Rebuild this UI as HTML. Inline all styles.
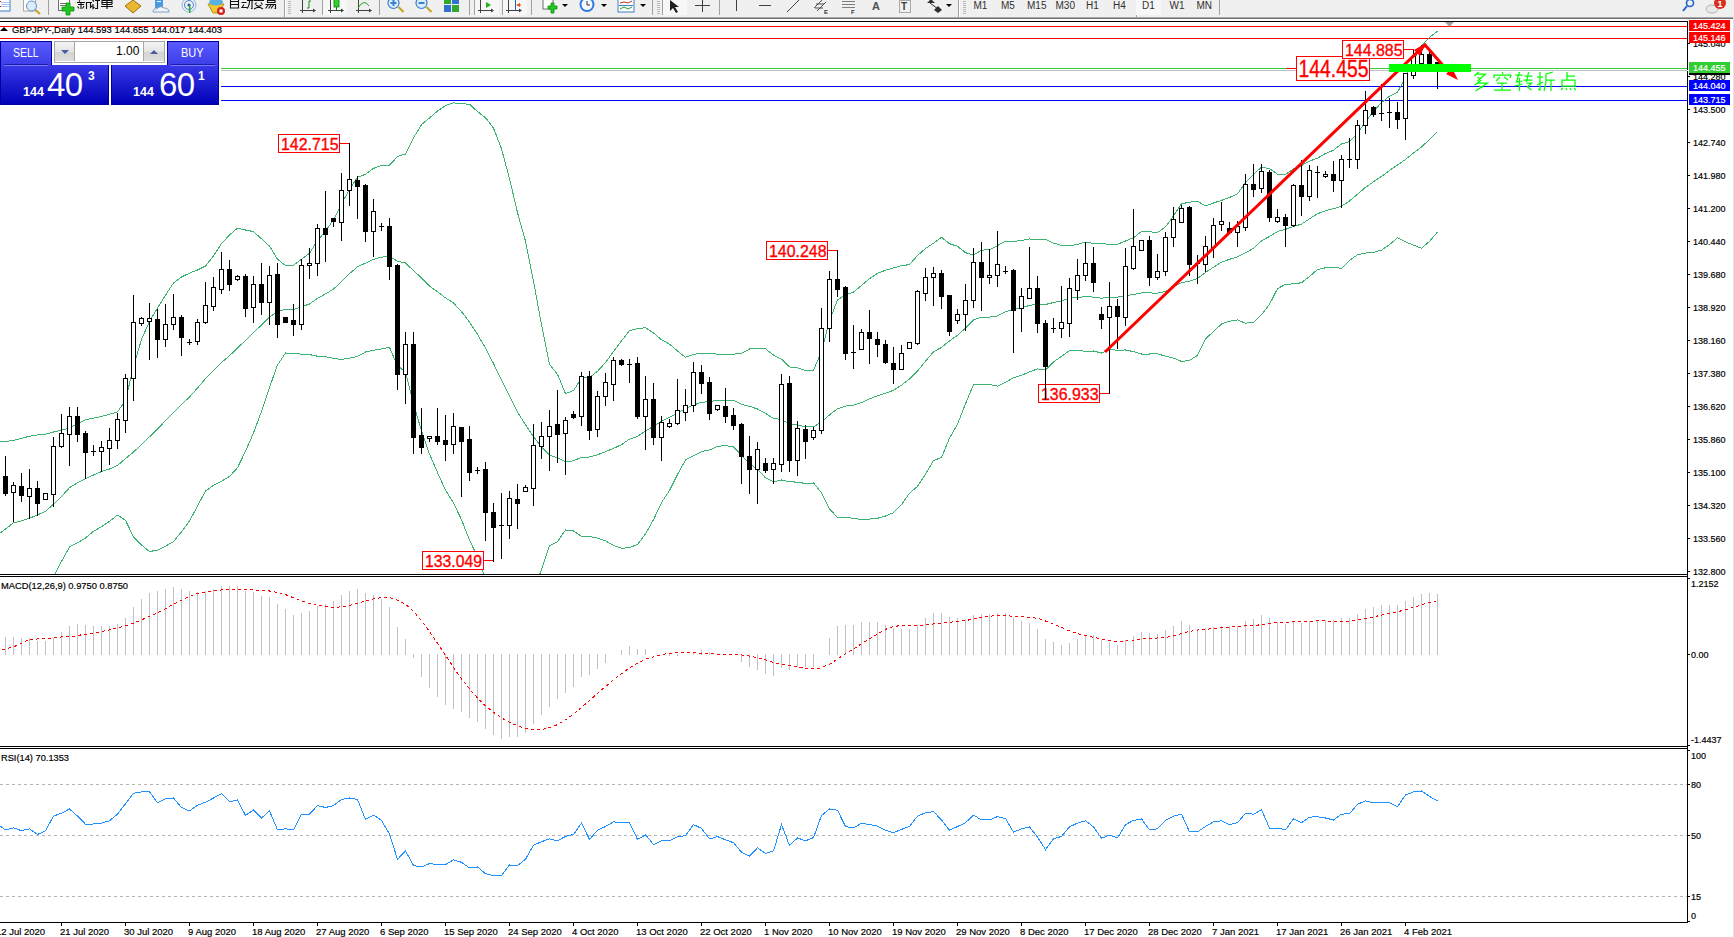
<!DOCTYPE html><html><head><meta charset="utf-8"><style>
html,body{margin:0;padding:0;width:1734px;height:937px;overflow:hidden;background:#fff;position:relative}
.ax{font-family:"Liberation Sans",sans-serif;font-size:9px;fill:#000;stroke:#000;stroke-width:0.18}
.lb{font-family:"Liberation Sans",sans-serif}
#tb{position:absolute;left:0;top:0;width:1734px;height:17px;background:#f0f0f0}
.tab,.bot{position:absolute;border:0 solid #0000a0;box-sizing:content-box}
.tab{background:linear-gradient(#5a5aff,#3c3ce8)}
.bot{background:linear-gradient(#3a3ae8,#0000b8)}
.pt{position:absolute;font-family:'Liberation Sans',sans-serif;color:#fff;white-space:nowrap;line-height:1}
.btn{position:absolute;background:linear-gradient(#f4f4f4,#e4e4e4 50%,#d4d4d4 51%,#dcdcdc)}
</style></head><body>
<div id="tb"></div>
<div style="position:absolute;left:0;top:17px;width:1733px;height:1px;background:#a8a8a8"></div>
<div style="position:absolute;left:0;top:18px;width:1733px;height:1px;background:#707070"></div>
<div style="position:absolute;left:1733px;top:17px;width:1px;height:920px;background:#e3e3e3"></div>
<svg width="1734" height="937" style="position:absolute;left:0;top:0"><defs><clipPath id="cm"><rect x="0" y="22" width="1687" height="552"/></clipPath><clipPath id="cmacd"><rect x="0" y="577" width="1687" height="169"/></clipPath><clipPath id="crsi"><rect x="0" y="749" width="1687" height="173"/></clipPath></defs><g clip-path="url(#cm)" shape-rendering="crispEdges"><rect x="0" y="26" width="1687" height="1" fill="#ff0000"/><rect x="0" y="38" width="1687" height="1" fill="#ff0000"/><rect x="0" y="68" width="1687" height="1" fill="#32cd32"/><rect x="0" y="70" width="1687" height="1" fill="#c0c0c0"/><rect x="0" y="86" width="1687" height="1" fill="#0000ff"/><rect x="0" y="100" width="1687" height="1" fill="#0000ff"/></g><g shape-rendering="crispEdges"><polyline clip-path="url(#cm)" fill="none" stroke="#3cb371" stroke-width="1" points="-3.5,442.3 5.5,441.4 13.5,440.5 21.5,438.4 29.5,436.2 37.5,435.0 45.5,434.1 53.5,432.0 61.5,430.2 69.5,427.9 77.5,423.5 85.5,419.7 93.5,418.2 101.5,416.5 109.5,414.2 117.5,411.9 125.5,400.5 133.5,366.5 141.5,339.5 149.5,321.5 157.5,308.0 165.5,295.2 173.5,282.9 181.5,277.0 189.5,273.1 197.5,270.0 205.5,266.0 213.5,256.0 221.5,243.6 229.5,235.0 237.5,228.1 245.5,230.0 253.5,231.6 261.5,238.8 269.5,246.1 277.5,259.2 285.5,265.5 293.5,265.4 301.5,259.2 309.5,253.3 317.5,240.6 325.5,231.1 333.5,219.8 341.5,204.0 349.5,189.2 357.5,177.3 365.5,174.2 373.5,168.4 381.5,165.3 389.5,165.2 397.5,156.6 405.5,154.0 413.5,137.8 421.5,124.7 429.5,117.9 437.5,111.1 445.5,105.6 453.5,102.9 461.5,103.7 469.5,104.2 477.5,111.6 485.5,117.7 493.5,128.1 501.5,148.8 509.5,178.6 517.5,212.6 525.5,241.2 533.5,281.0 541.5,324.8 549.5,364.3 557.5,374.3 565.5,393.6 573.5,390.6 581.5,378.2 589.5,377.5 597.5,371.3 605.5,362.6 613.5,351.4 621.5,340.9 629.5,330.7 637.5,328.6 645.5,327.7 653.5,333.0 661.5,339.7 669.5,344.1 677.5,351.0 685.5,357.3 693.5,354.4 701.5,353.1 709.5,353.4 717.5,354.2 725.5,354.4 733.5,354.1 741.5,353.4 749.5,349.0 757.5,348.8 765.5,348.8 773.5,355.1 781.5,359.1 789.5,367.0 797.5,367.7 805.5,370.5 813.5,370.4 821.5,351.3 829.5,320.9 837.5,299.9 845.5,294.7 853.5,292.1 861.5,285.4 869.5,278.7 877.5,273.3 885.5,270.2 893.5,267.9 901.5,265.7 909.5,264.6 917.5,255.5 925.5,248.5 933.5,243.2 941.5,237.3 949.5,243.7 957.5,246.3 965.5,252.7 973.5,255.1 981.5,250.2 989.5,249.6 997.5,245.6 1005.5,241.1 1013.5,241.5 1021.5,240.4 1029.5,239.0 1037.5,239.8 1045.5,239.2 1053.5,243.1 1061.5,245.4 1069.5,246.0 1077.5,244.3 1085.5,242.2 1093.5,243.3 1101.5,243.6 1109.5,244.3 1117.5,244.2 1125.5,241.0 1133.5,237.7 1141.5,231.6 1149.5,231.7 1157.5,232.6 1165.5,226.9 1173.5,215.9 1181.5,203.8 1189.5,202.2 1197.5,201.3 1205.5,205.9 1213.5,203.0 1221.5,200.4 1229.5,197.5 1237.5,193.8 1245.5,182.6 1253.5,174.2 1261.5,167.2 1269.5,168.6 1277.5,174.2 1285.5,174.5 1293.5,168.9 1301.5,165.6 1309.5,161.1 1317.5,158.2 1325.5,153.5 1333.5,150.2 1341.5,144.0 1349.5,141.7 1357.5,133.5 1365.5,121.6 1373.5,111.3 1381.5,102.5 1389.5,96.3 1397.5,92.3 1405.5,77.3 1413.5,60.7 1421.5,45.9 1429.5,37.3 1437.5,31.3"/><polyline clip-path="url(#cm)" fill="none" stroke="#3cb371" stroke-width="1" points="-3.5,535.5 5.5,529.1 13.5,522.7 21.5,520.9 29.5,518.3 37.5,514.9 45.5,511.3 53.5,504.2 61.5,496.6 69.5,487.7 77.5,482.8 85.5,478.8 93.5,475.0 101.5,471.6 109.5,469.0 117.5,465.5 125.5,458.5 133.5,452.1 141.5,444.5 149.5,436.8 157.5,429.1 165.5,420.7 173.5,412.3 181.5,404.4 189.5,397.0 197.5,388.0 205.5,378.6 213.5,370.6 221.5,362.4 229.5,355.8 237.5,347.9 245.5,340.6 253.5,332.3 261.5,325.1 269.5,316.8 277.5,312.0 285.5,309.2 293.5,309.4 301.5,306.7 309.5,304.0 317.5,298.4 325.5,293.9 333.5,289.1 341.5,281.7 349.5,273.6 357.5,266.8 365.5,263.1 373.5,259.3 381.5,257.2 389.5,256.3 397.5,261.2 405.5,263.0 413.5,270.6 421.5,277.9 429.5,286.0 437.5,291.8 445.5,297.9 453.5,303.0 461.5,311.7 469.5,322.1 477.5,334.3 485.5,348.2 493.5,363.5 501.5,380.2 509.5,396.2 517.5,412.0 525.5,424.9 533.5,436.6 541.5,447.1 549.5,455.1 557.5,458.0 565.5,461.8 573.5,460.8 581.5,457.3 589.5,457.0 597.5,454.8 605.5,451.7 613.5,448.4 621.5,444.6 629.5,439.2 637.5,436.5 645.5,430.8 653.5,426.4 661.5,421.2 669.5,417.4 677.5,412.8 685.5,408.7 693.5,405.0 701.5,402.3 709.5,401.7 717.5,400.3 725.5,400.0 733.5,400.4 741.5,404.4 749.5,406.3 757.5,409.0 765.5,413.4 773.5,418.5 781.5,419.5 789.5,424.3 797.5,424.9 805.5,427.0 813.5,426.7 821.5,422.0 829.5,414.9 837.5,408.8 845.5,406.1 853.5,405.1 861.5,402.6 869.5,398.9 877.5,395.8 885.5,393.1 893.5,390.3 901.5,385.2 909.5,378.9 917.5,371.0 925.5,361.3 933.5,351.8 941.5,347.4 949.5,340.9 957.5,335.2 965.5,328.2 973.5,319.8 981.5,317.3 989.5,317.1 997.5,315.9 1005.5,311.8 1013.5,309.6 1021.5,307.9 1029.5,305.4 1037.5,304.3 1045.5,304.5 1053.5,302.5 1061.5,300.9 1069.5,298.2 1077.5,297.4 1085.5,296.7 1093.5,297.1 1101.5,298.3 1109.5,297.1 1117.5,297.2 1125.5,295.5 1133.5,294.6 1141.5,292.8 1149.5,292.9 1157.5,293.2 1165.5,291.5 1173.5,287.0 1181.5,282.6 1189.5,281.3 1197.5,278.4 1205.5,272.4 1213.5,267.2 1221.5,262.2 1229.5,259.3 1237.5,256.9 1245.5,252.9 1253.5,248.3 1261.5,240.9 1269.5,236.4 1277.5,231.5 1285.5,229.4 1293.5,226.4 1301.5,224.2 1309.5,218.8 1317.5,213.8 1325.5,210.7 1333.5,208.7 1341.5,206.2 1349.5,201.0 1357.5,194.2 1365.5,187.3 1373.5,181.8 1381.5,176.4 1389.5,170.4 1397.5,165.1 1405.5,159.5 1413.5,152.9 1421.5,147.1 1429.5,139.4 1437.5,131.7"/><polyline clip-path="url(#cm)" fill="none" stroke="#3cb371" stroke-width="1" points="-3.5,681.5 5.5,666.5 13.5,651.5 21.5,636.5 29.5,621.5 37.5,606.5 45.5,591.5 53.5,576.5 61.5,561.4 69.5,547.0 77.5,542.8 85.5,538.0 93.5,531.3 101.5,526.7 109.5,521.3 117.5,515.1 125.5,520.3 133.5,536.9 141.5,545.0 149.5,551.5 157.5,550.2 165.5,546.1 173.5,541.6 181.5,531.8 189.5,521.0 197.5,506.0 205.5,491.1 213.5,485.3 221.5,481.2 229.5,476.5 237.5,467.7 245.5,451.3 253.5,433.0 261.5,411.3 269.5,387.5 277.5,364.9 285.5,353.0 293.5,353.3 301.5,354.2 309.5,354.6 317.5,356.2 325.5,356.7 333.5,358.3 341.5,359.5 349.5,358.1 357.5,356.4 365.5,352.0 373.5,350.2 381.5,349.0 389.5,347.4 397.5,365.8 405.5,372.0 413.5,403.5 421.5,431.1 429.5,454.1 437.5,472.5 445.5,490.1 453.5,503.0 461.5,519.7 469.5,540.1 477.5,556.9 485.5,578.7 493.5,598.8 501.5,611.7 509.5,613.7 517.5,611.5 525.5,608.5 533.5,592.1 541.5,569.3 549.5,545.8 557.5,541.7 565.5,530.0 573.5,531.0 581.5,536.4 589.5,536.4 597.5,538.2 605.5,540.8 613.5,545.4 621.5,548.3 629.5,547.7 637.5,544.4 645.5,534.0 653.5,519.7 661.5,502.6 669.5,490.6 677.5,474.5 685.5,460.0 693.5,455.6 701.5,451.6 709.5,450.0 717.5,446.3 725.5,445.7 733.5,446.8 741.5,455.3 749.5,463.7 757.5,469.2 765.5,477.9 773.5,481.9 781.5,480.0 789.5,481.7 797.5,482.2 805.5,483.5 813.5,483.0 821.5,492.7 829.5,508.8 837.5,517.6 845.5,517.6 853.5,518.2 861.5,519.7 869.5,519.1 877.5,518.3 885.5,516.0 893.5,512.7 901.5,504.7 909.5,493.2 917.5,486.4 925.5,474.1 933.5,460.5 941.5,457.5 949.5,438.2 957.5,424.2 965.5,403.7 973.5,384.5 981.5,384.3 989.5,384.6 997.5,386.1 1005.5,382.4 1013.5,377.7 1021.5,375.4 1029.5,371.8 1037.5,368.9 1045.5,369.9 1053.5,361.9 1061.5,356.4 1069.5,350.4 1077.5,350.5 1085.5,351.2 1093.5,351.0 1101.5,353.0 1109.5,349.8 1117.5,350.1 1125.5,350.0 1133.5,351.6 1141.5,354.0 1149.5,354.0 1157.5,353.8 1165.5,356.2 1173.5,358.1 1181.5,361.4 1189.5,360.4 1197.5,355.4 1205.5,338.8 1213.5,331.5 1221.5,324.0 1229.5,321.2 1237.5,319.9 1245.5,323.2 1253.5,322.4 1261.5,314.7 1269.5,304.3 1277.5,288.7 1285.5,284.3 1293.5,283.9 1301.5,282.7 1309.5,276.5 1317.5,269.5 1325.5,267.8 1333.5,267.1 1341.5,268.5 1349.5,260.4 1357.5,254.8 1365.5,253.1 1373.5,252.3 1381.5,250.2 1389.5,244.6 1397.5,237.8 1405.5,241.8 1413.5,245.2 1421.5,248.2 1429.5,241.4 1437.5,232.0"/></g><rect x="278.5" y="134.5" width="61" height="18" fill="#fff" stroke="#ff0000" stroke-width="1" shape-rendering="crispEdges"/><text x="281.0" y="149.6" style="font-size:16.5px;fill:#ff0000;stroke:#ff0000;stroke-width:0.35" textLength="57.5" lengthAdjust="spacingAndGlyphs" class="lb">142.715</text><polyline fill="none" stroke="#ff0000" stroke-width="1" shape-rendering="crispEdges" points="339,143.5 349.5,143.5"/><rect x="766.5" y="241.5" width="61" height="18" fill="#fff" stroke="#ff0000" stroke-width="1" shape-rendering="crispEdges"/><text x="769.0" y="256.6" style="font-size:16.5px;fill:#ff0000;stroke:#ff0000;stroke-width:0.35" textLength="57.5" lengthAdjust="spacingAndGlyphs" class="lb">140.248</text><polyline fill="none" stroke="#ff0000" stroke-width="1" shape-rendering="crispEdges" points="827,250.5 837.5,250.5"/><rect x="422.5" y="551.5" width="61" height="18" fill="#fff" stroke="#ff0000" stroke-width="1" shape-rendering="crispEdges"/><text x="425.0" y="566.6" style="font-size:16.5px;fill:#ff0000;stroke:#ff0000;stroke-width:0.35" textLength="57.0" lengthAdjust="spacingAndGlyphs" class="lb">133.049</text><polyline fill="none" stroke="#ff0000" stroke-width="1" shape-rendering="crispEdges" points="483,560.5 493.5,560.5"/><rect x="1038.5" y="384.5" width="61" height="18" fill="#fff" stroke="#ff0000" stroke-width="1" shape-rendering="crispEdges"/><text x="1041.0" y="399.6" style="font-size:16.5px;fill:#ff0000;stroke:#ff0000;stroke-width:0.35" textLength="57.5" lengthAdjust="spacingAndGlyphs" class="lb">136.933</text><polyline fill="none" stroke="#ff0000" stroke-width="1" shape-rendering="crispEdges" points="1099,393.5 1109.5,393.5"/><rect x="1296.5" y="56.5" width="73" height="24" fill="#fff" stroke="#ff0000" stroke-width="1" shape-rendering="crispEdges"/><text x="1298.5" y="76.9" style="font-size:23.8px;fill:#ff0000;stroke:#ff0000;stroke-width:0.35" textLength="70.0" lengthAdjust="spacingAndGlyphs" class="lb">144.455</text><polyline fill="none" stroke="#ff0000" stroke-width="1" shape-rendering="crispEdges" points="1286,68.5 1296,68.5"/><rect x="1342.5" y="40.5" width="61" height="18" fill="#fff" stroke="#ff0000" stroke-width="1" shape-rendering="crispEdges"/><text x="1345.0" y="56.0" style="font-size:17.0px;fill:#ff0000;stroke:#ff0000;stroke-width:0.35" textLength="57.5" lengthAdjust="spacingAndGlyphs" class="lb">144.885</text><polyline fill="none" stroke="#ff0000" stroke-width="1" shape-rendering="crispEdges" points="1403,49.5 1413.5,49.5"/><g clip-path="url(#cm)" shape-rendering="crispEdges"><rect x="5" y="456" width="1" height="40" fill="#000"/><rect x="3" y="476" width="5" height="18" fill="#000"/><rect x="13" y="482" width="1" height="40" fill="#000"/><rect x="11" y="485" width="5" height="8" fill="#000"/><rect x="12" y="486" width="3" height="6" fill="#fff"/><rect x="21" y="473" width="1" height="29" fill="#000"/><rect x="19" y="486" width="5" height="10" fill="#000"/><rect x="29" y="469" width="1" height="50" fill="#000"/><rect x="27" y="488" width="5" height="9" fill="#000"/><rect x="28" y="489" width="3" height="7" fill="#fff"/><rect x="37" y="481" width="1" height="35" fill="#000"/><rect x="35" y="488" width="5" height="16" fill="#000"/><rect x="45" y="493" width="1" height="7" fill="#000"/><rect x="43" y="493" width="5" height="7" fill="#000"/><rect x="44" y="494" width="3" height="5" fill="#fff"/><rect x="53" y="437" width="1" height="70" fill="#000"/><rect x="51" y="446" width="5" height="49" fill="#000"/><rect x="52" y="447" width="3" height="47" fill="#fff"/><rect x="61" y="414" width="1" height="34" fill="#000"/><rect x="59" y="433" width="5" height="14" fill="#000"/><rect x="60" y="434" width="3" height="12" fill="#fff"/><rect x="69" y="407" width="1" height="59" fill="#000"/><rect x="67" y="416" width="5" height="19" fill="#000"/><rect x="68" y="417" width="3" height="17" fill="#fff"/><rect x="77" y="407" width="1" height="35" fill="#000"/><rect x="75" y="416" width="5" height="19" fill="#000"/><rect x="85" y="431" width="1" height="48" fill="#000"/><rect x="83" y="433" width="5" height="20" fill="#000"/><rect x="93" y="445" width="1" height="11" fill="#000"/><rect x="91" y="451" width="5" height="1" fill="#000"/><rect x="101" y="441" width="1" height="31" fill="#000"/><rect x="99" y="447" width="5" height="5" fill="#000"/><rect x="100" y="448" width="3" height="3" fill="#fff"/><rect x="109" y="428" width="1" height="37" fill="#000"/><rect x="107" y="440" width="5" height="9" fill="#000"/><rect x="108" y="441" width="3" height="7" fill="#fff"/><rect x="117" y="413" width="1" height="36" fill="#000"/><rect x="115" y="419" width="5" height="22" fill="#000"/><rect x="116" y="420" width="3" height="20" fill="#fff"/><rect x="125" y="374" width="1" height="59" fill="#000"/><rect x="123" y="378" width="5" height="43" fill="#000"/><rect x="124" y="379" width="3" height="41" fill="#fff"/><rect x="133" y="295" width="1" height="106" fill="#000"/><rect x="131" y="322" width="5" height="57" fill="#000"/><rect x="132" y="323" width="3" height="55" fill="#fff"/><rect x="141" y="317" width="1" height="9" fill="#000"/><rect x="139" y="318" width="5" height="6" fill="#000"/><rect x="140" y="319" width="3" height="4" fill="#fff"/><rect x="149" y="303" width="1" height="57" fill="#000"/><rect x="147" y="318" width="5" height="4" fill="#000"/><rect x="148" y="319" width="3" height="2" fill="#fff"/><rect x="157" y="309" width="1" height="49" fill="#000"/><rect x="155" y="319" width="5" height="21" fill="#000"/><rect x="165" y="304" width="1" height="43" fill="#000"/><rect x="163" y="324" width="5" height="16" fill="#000"/><rect x="164" y="325" width="3" height="14" fill="#fff"/><rect x="173" y="294" width="1" height="36" fill="#000"/><rect x="171" y="317" width="5" height="8" fill="#000"/><rect x="172" y="318" width="3" height="6" fill="#fff"/><rect x="181" y="315" width="1" height="41" fill="#000"/><rect x="179" y="317" width="5" height="21" fill="#000"/><rect x="189" y="339" width="1" height="6" fill="#000"/><rect x="187" y="342" width="5" height="1" fill="#000"/><rect x="197" y="319" width="1" height="26" fill="#000"/><rect x="195" y="322" width="5" height="20" fill="#000"/><rect x="196" y="323" width="3" height="18" fill="#fff"/><rect x="205" y="282" width="1" height="42" fill="#000"/><rect x="203" y="305" width="5" height="18" fill="#000"/><rect x="204" y="306" width="3" height="16" fill="#fff"/><rect x="213" y="277" width="1" height="34" fill="#000"/><rect x="211" y="287" width="5" height="20" fill="#000"/><rect x="212" y="288" width="3" height="18" fill="#fff"/><rect x="221" y="252" width="1" height="42" fill="#000"/><rect x="219" y="269" width="5" height="21" fill="#000"/><rect x="220" y="270" width="3" height="19" fill="#fff"/><rect x="229" y="260" width="1" height="31" fill="#000"/><rect x="227" y="269" width="5" height="16" fill="#000"/><rect x="237" y="275" width="1" height="6" fill="#000"/><rect x="235" y="276" width="5" height="4" fill="#000"/><rect x="236" y="277" width="3" height="2" fill="#fff"/><rect x="245" y="274" width="1" height="43" fill="#000"/><rect x="243" y="276" width="5" height="33" fill="#000"/><rect x="253" y="276" width="1" height="47" fill="#000"/><rect x="251" y="284" width="5" height="24" fill="#000"/><rect x="252" y="285" width="3" height="22" fill="#fff"/><rect x="261" y="263" width="1" height="52" fill="#000"/><rect x="259" y="284" width="5" height="19" fill="#000"/><rect x="269" y="266" width="1" height="59" fill="#000"/><rect x="267" y="275" width="5" height="28" fill="#000"/><rect x="268" y="276" width="3" height="26" fill="#fff"/><rect x="277" y="263" width="1" height="75" fill="#000"/><rect x="275" y="274" width="5" height="51" fill="#000"/><rect x="285" y="317" width="1" height="6" fill="#000"/><rect x="283" y="317" width="5" height="6" fill="#000"/><rect x="293" y="304" width="1" height="32" fill="#000"/><rect x="291" y="320" width="5" height="5" fill="#000"/><rect x="301" y="259" width="1" height="71" fill="#000"/><rect x="299" y="265" width="5" height="60" fill="#000"/><rect x="300" y="266" width="3" height="58" fill="#fff"/><rect x="309" y="248" width="1" height="31" fill="#000"/><rect x="307" y="263" width="5" height="3" fill="#000"/><rect x="308" y="264" width="3" height="1" fill="#fff"/><rect x="317" y="224" width="1" height="52" fill="#000"/><rect x="315" y="228" width="5" height="36" fill="#000"/><rect x="316" y="229" width="3" height="34" fill="#fff"/><rect x="325" y="191" width="1" height="71" fill="#000"/><rect x="323" y="228" width="5" height="7" fill="#000"/><rect x="333" y="218" width="1" height="9" fill="#000"/><rect x="331" y="218" width="5" height="4" fill="#000"/><rect x="341" y="173" width="1" height="68" fill="#000"/><rect x="339" y="190" width="5" height="33" fill="#000"/><rect x="340" y="191" width="3" height="31" fill="#fff"/><rect x="349" y="143" width="1" height="63" fill="#000"/><rect x="347" y="179" width="5" height="12" fill="#000"/><rect x="348" y="180" width="3" height="10" fill="#fff"/><rect x="357" y="176" width="1" height="43" fill="#000"/><rect x="355" y="180" width="5" height="7" fill="#000"/><rect x="365" y="184" width="1" height="58" fill="#000"/><rect x="363" y="185" width="5" height="47" fill="#000"/><rect x="373" y="199" width="1" height="58" fill="#000"/><rect x="371" y="211" width="5" height="21" fill="#000"/><rect x="372" y="212" width="3" height="19" fill="#fff"/><rect x="381" y="223" width="1" height="8" fill="#000"/><rect x="379" y="226" width="5" height="1" fill="#000"/><rect x="389" y="218" width="1" height="62" fill="#000"/><rect x="387" y="226" width="5" height="41" fill="#000"/><rect x="397" y="264" width="1" height="126" fill="#000"/><rect x="395" y="265" width="5" height="110" fill="#000"/><rect x="405" y="332" width="1" height="72" fill="#000"/><rect x="403" y="344" width="5" height="31" fill="#000"/><rect x="404" y="345" width="3" height="29" fill="#fff"/><rect x="413" y="332" width="1" height="122" fill="#000"/><rect x="411" y="344" width="5" height="94" fill="#000"/><rect x="421" y="408" width="1" height="46" fill="#000"/><rect x="419" y="435" width="5" height="13" fill="#000"/><rect x="429" y="436" width="1" height="6" fill="#000"/><rect x="427" y="436" width="5" height="3" fill="#000"/><rect x="428" y="437" width="3" height="1" fill="#fff"/><rect x="437" y="408" width="1" height="37" fill="#000"/><rect x="435" y="436" width="5" height="6" fill="#000"/><rect x="445" y="415" width="1" height="46" fill="#000"/><rect x="443" y="440" width="5" height="5" fill="#000"/><rect x="453" y="413" width="1" height="41" fill="#000"/><rect x="451" y="426" width="5" height="19" fill="#000"/><rect x="452" y="427" width="3" height="17" fill="#fff"/><rect x="461" y="427" width="1" height="70" fill="#000"/><rect x="459" y="427" width="5" height="15" fill="#000"/><rect x="469" y="426" width="1" height="55" fill="#000"/><rect x="467" y="439" width="5" height="34" fill="#000"/><rect x="477" y="467" width="1" height="7" fill="#000"/><rect x="475" y="470" width="5" height="1" fill="#000"/><rect x="485" y="462" width="1" height="79" fill="#000"/><rect x="483" y="469" width="5" height="44" fill="#000"/><rect x="493" y="503" width="1" height="59" fill="#000"/><rect x="491" y="512" width="5" height="16" fill="#000"/><rect x="501" y="493" width="1" height="66" fill="#000"/><rect x="499" y="525" width="5" height="1" fill="#000"/><rect x="509" y="491" width="1" height="48" fill="#000"/><rect x="507" y="498" width="5" height="28" fill="#000"/><rect x="508" y="499" width="3" height="26" fill="#fff"/><rect x="517" y="484" width="1" height="45" fill="#000"/><rect x="515" y="499" width="5" height="5" fill="#000"/><rect x="525" y="485" width="1" height="7" fill="#000"/><rect x="523" y="487" width="5" height="5" fill="#000"/><rect x="524" y="488" width="3" height="3" fill="#fff"/><rect x="533" y="424" width="1" height="82" fill="#000"/><rect x="531" y="445" width="5" height="44" fill="#000"/><rect x="532" y="446" width="3" height="42" fill="#fff"/><rect x="541" y="422" width="1" height="37" fill="#000"/><rect x="539" y="436" width="5" height="11" fill="#000"/><rect x="540" y="437" width="3" height="9" fill="#fff"/><rect x="549" y="410" width="1" height="61" fill="#000"/><rect x="547" y="426" width="5" height="11" fill="#000"/><rect x="548" y="427" width="3" height="9" fill="#fff"/><rect x="557" y="390" width="1" height="73" fill="#000"/><rect x="555" y="424" width="5" height="11" fill="#000"/><rect x="565" y="417" width="1" height="58" fill="#000"/><rect x="563" y="420" width="5" height="14" fill="#000"/><rect x="564" y="421" width="3" height="12" fill="#fff"/><rect x="573" y="411" width="1" height="8" fill="#000"/><rect x="571" y="414" width="5" height="4" fill="#000"/><rect x="581" y="372" width="1" height="54" fill="#000"/><rect x="579" y="376" width="5" height="41" fill="#000"/><rect x="580" y="377" width="3" height="39" fill="#fff"/><rect x="589" y="371" width="1" height="69" fill="#000"/><rect x="587" y="376" width="5" height="55" fill="#000"/><rect x="597" y="391" width="1" height="46" fill="#000"/><rect x="595" y="396" width="5" height="34" fill="#000"/><rect x="596" y="397" width="3" height="32" fill="#fff"/><rect x="605" y="373" width="1" height="33" fill="#000"/><rect x="603" y="382" width="5" height="15" fill="#000"/><rect x="604" y="383" width="3" height="13" fill="#fff"/><rect x="613" y="357" width="1" height="44" fill="#000"/><rect x="611" y="360" width="5" height="25" fill="#000"/><rect x="612" y="361" width="3" height="23" fill="#fff"/><rect x="621" y="359" width="1" height="7" fill="#000"/><rect x="619" y="360" width="5" height="5" fill="#000"/><rect x="629" y="359" width="1" height="24" fill="#000"/><rect x="627" y="364" width="5" height="1" fill="#000"/><rect x="637" y="357" width="1" height="62" fill="#000"/><rect x="635" y="363" width="5" height="54" fill="#000"/><rect x="645" y="376" width="1" height="74" fill="#000"/><rect x="643" y="399" width="5" height="18" fill="#000"/><rect x="644" y="400" width="3" height="16" fill="#fff"/><rect x="653" y="383" width="1" height="62" fill="#000"/><rect x="651" y="399" width="5" height="39" fill="#000"/><rect x="661" y="416" width="1" height="45" fill="#000"/><rect x="659" y="422" width="5" height="16" fill="#000"/><rect x="660" y="423" width="3" height="14" fill="#fff"/><rect x="669" y="419" width="1" height="9" fill="#000"/><rect x="667" y="423" width="5" height="4" fill="#000"/><rect x="668" y="424" width="3" height="2" fill="#fff"/><rect x="677" y="379" width="1" height="46" fill="#000"/><rect x="675" y="410" width="5" height="14" fill="#000"/><rect x="676" y="411" width="3" height="12" fill="#fff"/><rect x="685" y="389" width="1" height="32" fill="#000"/><rect x="683" y="405" width="5" height="8" fill="#000"/><rect x="684" y="406" width="3" height="6" fill="#fff"/><rect x="693" y="362" width="1" height="50" fill="#000"/><rect x="691" y="372" width="5" height="34" fill="#000"/><rect x="692" y="373" width="3" height="32" fill="#fff"/><rect x="701" y="365" width="1" height="29" fill="#000"/><rect x="699" y="372" width="5" height="12" fill="#000"/><rect x="709" y="377" width="1" height="43" fill="#000"/><rect x="707" y="382" width="5" height="32" fill="#000"/><rect x="717" y="405" width="1" height="6" fill="#000"/><rect x="715" y="405" width="5" height="5" fill="#000"/><rect x="716" y="406" width="3" height="3" fill="#fff"/><rect x="725" y="388" width="1" height="35" fill="#000"/><rect x="723" y="406" width="5" height="11" fill="#000"/><rect x="733" y="408" width="1" height="22" fill="#000"/><rect x="731" y="415" width="5" height="11" fill="#000"/><rect x="741" y="423" width="1" height="61" fill="#000"/><rect x="739" y="424" width="5" height="33" fill="#000"/><rect x="749" y="436" width="1" height="58" fill="#000"/><rect x="747" y="456" width="5" height="14" fill="#000"/><rect x="757" y="442" width="1" height="62" fill="#000"/><rect x="755" y="449" width="5" height="21" fill="#000"/><rect x="756" y="450" width="3" height="19" fill="#fff"/><rect x="765" y="458" width="1" height="15" fill="#000"/><rect x="763" y="463" width="5" height="8" fill="#000"/><rect x="773" y="458" width="1" height="26" fill="#000"/><rect x="771" y="463" width="5" height="7" fill="#000"/><rect x="772" y="464" width="3" height="5" fill="#fff"/><rect x="781" y="374" width="1" height="98" fill="#000"/><rect x="779" y="384" width="5" height="81" fill="#000"/><rect x="780" y="385" width="3" height="79" fill="#fff"/><rect x="789" y="376" width="1" height="96" fill="#000"/><rect x="787" y="383" width="5" height="78" fill="#000"/><rect x="797" y="421" width="1" height="55" fill="#000"/><rect x="795" y="428" width="5" height="33" fill="#000"/><rect x="796" y="429" width="3" height="31" fill="#fff"/><rect x="805" y="425" width="1" height="34" fill="#000"/><rect x="803" y="429" width="5" height="13" fill="#000"/><rect x="813" y="427" width="1" height="13" fill="#000"/><rect x="811" y="430" width="5" height="8" fill="#000"/><rect x="812" y="431" width="3" height="6" fill="#fff"/><rect x="821" y="308" width="1" height="126" fill="#000"/><rect x="819" y="328" width="5" height="103" fill="#000"/><rect x="820" y="329" width="3" height="101" fill="#fff"/><rect x="829" y="271" width="1" height="71" fill="#000"/><rect x="827" y="279" width="5" height="50" fill="#000"/><rect x="828" y="280" width="3" height="48" fill="#fff"/><rect x="837" y="250" width="1" height="47" fill="#000"/><rect x="835" y="279" width="5" height="11" fill="#000"/><rect x="845" y="286" width="1" height="74" fill="#000"/><rect x="843" y="287" width="5" height="67" fill="#000"/><rect x="853" y="325" width="1" height="44" fill="#000"/><rect x="851" y="352" width="5" height="1" fill="#000"/><rect x="861" y="329" width="1" height="21" fill="#000"/><rect x="859" y="332" width="5" height="18" fill="#000"/><rect x="860" y="333" width="3" height="16" fill="#fff"/><rect x="869" y="310" width="1" height="54" fill="#000"/><rect x="867" y="332" width="5" height="7" fill="#000"/><rect x="877" y="332" width="1" height="25" fill="#000"/><rect x="875" y="339" width="5" height="6" fill="#000"/><rect x="885" y="340" width="1" height="24" fill="#000"/><rect x="883" y="344" width="5" height="19" fill="#000"/><rect x="893" y="347" width="1" height="37" fill="#000"/><rect x="891" y="363" width="5" height="7" fill="#000"/><rect x="901" y="345" width="1" height="25" fill="#000"/><rect x="899" y="353" width="5" height="17" fill="#000"/><rect x="900" y="354" width="3" height="15" fill="#fff"/><rect x="909" y="342" width="1" height="7" fill="#000"/><rect x="907" y="342" width="5" height="7" fill="#000"/><rect x="908" y="343" width="3" height="5" fill="#fff"/><rect x="917" y="290" width="1" height="55" fill="#000"/><rect x="915" y="291" width="5" height="53" fill="#000"/><rect x="916" y="292" width="3" height="51" fill="#fff"/><rect x="925" y="268" width="1" height="33" fill="#000"/><rect x="923" y="277" width="5" height="17" fill="#000"/><rect x="924" y="278" width="3" height="15" fill="#fff"/><rect x="933" y="267" width="1" height="39" fill="#000"/><rect x="931" y="273" width="5" height="5" fill="#000"/><rect x="932" y="274" width="3" height="3" fill="#fff"/><rect x="941" y="270" width="1" height="39" fill="#000"/><rect x="939" y="273" width="5" height="24" fill="#000"/><rect x="949" y="295" width="1" height="41" fill="#000"/><rect x="947" y="295" width="5" height="37" fill="#000"/><rect x="957" y="309" width="1" height="15" fill="#000"/><rect x="955" y="314" width="5" height="7" fill="#000"/><rect x="956" y="315" width="3" height="5" fill="#fff"/><rect x="965" y="284" width="1" height="47" fill="#000"/><rect x="963" y="300" width="5" height="15" fill="#000"/><rect x="964" y="301" width="3" height="13" fill="#fff"/><rect x="973" y="248" width="1" height="60" fill="#000"/><rect x="971" y="262" width="5" height="39" fill="#000"/><rect x="972" y="263" width="3" height="37" fill="#fff"/><rect x="981" y="242" width="1" height="69" fill="#000"/><rect x="979" y="262" width="5" height="16" fill="#000"/><rect x="989" y="249" width="1" height="35" fill="#000"/><rect x="987" y="275" width="5" height="3" fill="#000"/><rect x="988" y="276" width="3" height="1" fill="#fff"/><rect x="997" y="231" width="1" height="56" fill="#000"/><rect x="995" y="264" width="5" height="12" fill="#000"/><rect x="996" y="265" width="3" height="10" fill="#fff"/><rect x="1005" y="266" width="1" height="8" fill="#000"/><rect x="1003" y="271" width="5" height="1" fill="#000"/><rect x="1013" y="269" width="1" height="84" fill="#000"/><rect x="1011" y="270" width="5" height="41" fill="#000"/><rect x="1021" y="288" width="1" height="44" fill="#000"/><rect x="1019" y="296" width="5" height="13" fill="#000"/><rect x="1020" y="297" width="3" height="11" fill="#fff"/><rect x="1029" y="247" width="1" height="52" fill="#000"/><rect x="1027" y="288" width="5" height="11" fill="#000"/><rect x="1028" y="289" width="3" height="9" fill="#fff"/><rect x="1037" y="276" width="1" height="57" fill="#000"/><rect x="1035" y="288" width="5" height="36" fill="#000"/><rect x="1045" y="320" width="1" height="80" fill="#000"/><rect x="1043" y="323" width="5" height="44" fill="#000"/><rect x="1053" y="318" width="1" height="15" fill="#000"/><rect x="1051" y="328" width="5" height="1" fill="#000"/><rect x="1061" y="286" width="1" height="52" fill="#000"/><rect x="1059" y="322" width="5" height="7" fill="#000"/><rect x="1060" y="323" width="3" height="5" fill="#fff"/><rect x="1069" y="278" width="1" height="59" fill="#000"/><rect x="1067" y="288" width="5" height="36" fill="#000"/><rect x="1068" y="289" width="3" height="34" fill="#fff"/><rect x="1077" y="259" width="1" height="41" fill="#000"/><rect x="1075" y="275" width="5" height="16" fill="#000"/><rect x="1076" y="276" width="3" height="14" fill="#fff"/><rect x="1085" y="242" width="1" height="39" fill="#000"/><rect x="1083" y="263" width="5" height="13" fill="#000"/><rect x="1084" y="264" width="3" height="11" fill="#fff"/><rect x="1093" y="247" width="1" height="45" fill="#000"/><rect x="1091" y="263" width="5" height="20" fill="#000"/><rect x="1101" y="307" width="1" height="22" fill="#000"/><rect x="1099" y="314" width="5" height="6" fill="#000"/><rect x="1109" y="282" width="1" height="112" fill="#000"/><rect x="1107" y="306" width="5" height="12" fill="#000"/><rect x="1108" y="307" width="3" height="10" fill="#fff"/><rect x="1117" y="299" width="1" height="50" fill="#000"/><rect x="1115" y="306" width="5" height="11" fill="#000"/><rect x="1125" y="248" width="1" height="78" fill="#000"/><rect x="1123" y="266" width="5" height="52" fill="#000"/><rect x="1124" y="267" width="3" height="50" fill="#fff"/><rect x="1133" y="209" width="1" height="61" fill="#000"/><rect x="1131" y="246" width="5" height="23" fill="#000"/><rect x="1132" y="247" width="3" height="21" fill="#fff"/><rect x="1141" y="240" width="1" height="11" fill="#000"/><rect x="1139" y="240" width="5" height="11" fill="#000"/><rect x="1140" y="241" width="3" height="9" fill="#fff"/><rect x="1149" y="236" width="1" height="50" fill="#000"/><rect x="1147" y="240" width="5" height="38" fill="#000"/><rect x="1157" y="254" width="1" height="26" fill="#000"/><rect x="1155" y="271" width="5" height="7" fill="#000"/><rect x="1156" y="272" width="3" height="5" fill="#fff"/><rect x="1165" y="232" width="1" height="44" fill="#000"/><rect x="1163" y="237" width="5" height="35" fill="#000"/><rect x="1164" y="238" width="3" height="33" fill="#fff"/><rect x="1173" y="207" width="1" height="40" fill="#000"/><rect x="1171" y="219" width="5" height="19" fill="#000"/><rect x="1172" y="220" width="3" height="17" fill="#fff"/><rect x="1181" y="205" width="1" height="18" fill="#000"/><rect x="1179" y="208" width="5" height="15" fill="#000"/><rect x="1180" y="209" width="3" height="13" fill="#fff"/><rect x="1189" y="206" width="1" height="70" fill="#000"/><rect x="1187" y="207" width="5" height="58" fill="#000"/><rect x="1197" y="255" width="1" height="29" fill="#000"/><rect x="1195" y="263" width="5" height="1" fill="#000"/><rect x="1205" y="236" width="1" height="36" fill="#000"/><rect x="1203" y="246" width="5" height="19" fill="#000"/><rect x="1204" y="247" width="3" height="17" fill="#fff"/><rect x="1213" y="218" width="1" height="40" fill="#000"/><rect x="1211" y="225" width="5" height="23" fill="#000"/><rect x="1212" y="226" width="3" height="21" fill="#fff"/><rect x="1221" y="202" width="1" height="29" fill="#000"/><rect x="1219" y="221" width="5" height="4" fill="#000"/><rect x="1220" y="222" width="3" height="2" fill="#fff"/><rect x="1229" y="222" width="1" height="11" fill="#000"/><rect x="1227" y="228" width="5" height="5" fill="#000"/><rect x="1237" y="221" width="1" height="26" fill="#000"/><rect x="1235" y="226" width="5" height="7" fill="#000"/><rect x="1236" y="227" width="3" height="5" fill="#fff"/><rect x="1245" y="174" width="1" height="57" fill="#000"/><rect x="1243" y="184" width="5" height="44" fill="#000"/><rect x="1244" y="185" width="3" height="42" fill="#fff"/><rect x="1253" y="164" width="1" height="33" fill="#000"/><rect x="1251" y="184" width="5" height="6" fill="#000"/><rect x="1261" y="164" width="1" height="29" fill="#000"/><rect x="1259" y="171" width="5" height="18" fill="#000"/><rect x="1260" y="172" width="3" height="16" fill="#fff"/><rect x="1269" y="170" width="1" height="52" fill="#000"/><rect x="1267" y="172" width="5" height="46" fill="#000"/><rect x="1277" y="209" width="1" height="14" fill="#000"/><rect x="1275" y="217" width="5" height="5" fill="#000"/><rect x="1276" y="218" width="3" height="3" fill="#fff"/><rect x="1285" y="214" width="1" height="33" fill="#000"/><rect x="1283" y="217" width="5" height="9" fill="#000"/><rect x="1293" y="184" width="1" height="43" fill="#000"/><rect x="1291" y="185" width="5" height="41" fill="#000"/><rect x="1292" y="186" width="3" height="39" fill="#fff"/><rect x="1301" y="160" width="1" height="56" fill="#000"/><rect x="1299" y="185" width="5" height="12" fill="#000"/><rect x="1309" y="165" width="1" height="36" fill="#000"/><rect x="1307" y="170" width="5" height="27" fill="#000"/><rect x="1308" y="171" width="3" height="25" fill="#fff"/><rect x="1317" y="166" width="1" height="32" fill="#000"/><rect x="1315" y="172" width="5" height="1" fill="#000"/><rect x="1325" y="171" width="1" height="7" fill="#000"/><rect x="1323" y="174" width="5" height="3" fill="#000"/><rect x="1324" y="175" width="3" height="1" fill="#fff"/><rect x="1333" y="161" width="1" height="31" fill="#000"/><rect x="1331" y="174" width="5" height="7" fill="#000"/><rect x="1341" y="155" width="1" height="53" fill="#000"/><rect x="1339" y="159" width="5" height="22" fill="#000"/><rect x="1340" y="160" width="3" height="20" fill="#fff"/><rect x="1349" y="138" width="1" height="30" fill="#000"/><rect x="1347" y="159" width="5" height="1" fill="#000"/><rect x="1357" y="120" width="1" height="49" fill="#000"/><rect x="1355" y="125" width="5" height="35" fill="#000"/><rect x="1356" y="126" width="3" height="33" fill="#fff"/><rect x="1365" y="91" width="1" height="43" fill="#000"/><rect x="1363" y="110" width="5" height="16" fill="#000"/><rect x="1364" y="111" width="3" height="14" fill="#fff"/><rect x="1373" y="106" width="1" height="11" fill="#000"/><rect x="1371" y="107" width="5" height="8" fill="#000"/><rect x="1381" y="84" width="1" height="37" fill="#000"/><rect x="1379" y="113" width="5" height="1" fill="#000"/><rect x="1389" y="98" width="1" height="30" fill="#000"/><rect x="1387" y="112" width="5" height="1" fill="#000"/><rect x="1397" y="102" width="1" height="27" fill="#000"/><rect x="1395" y="112" width="5" height="8" fill="#000"/><rect x="1405" y="73" width="1" height="67" fill="#000"/><rect x="1403" y="73" width="5" height="46" fill="#000"/><rect x="1404" y="74" width="3" height="44" fill="#fff"/><rect x="1413" y="50" width="1" height="29" fill="#000"/><rect x="1411" y="56" width="5" height="20" fill="#000"/><rect x="1412" y="57" width="3" height="18" fill="#fff"/><rect x="1421" y="45" width="1" height="19" fill="#000"/><rect x="1419" y="54" width="5" height="10" fill="#000"/><rect x="1420" y="55" width="3" height="8" fill="#fff"/><rect x="1429" y="52" width="1" height="13" fill="#000"/><rect x="1427" y="54" width="5" height="10" fill="#000"/><rect x="1437" y="62" width="1" height="27" fill="#000"/><rect x="1435" y="62" width="5" height="3" fill="#000"/></g><g clip-path="url(#cmacd)" shape-rendering="crispEdges"><rect x="5" y="637" width="1" height="18" fill="#c0c0c0"/><rect x="13" y="637" width="1" height="18" fill="#c0c0c0"/><rect x="21" y="638" width="1" height="17" fill="#c0c0c0"/><rect x="29" y="638" width="1" height="17" fill="#c0c0c0"/><rect x="37" y="641" width="1" height="14" fill="#c0c0c0"/><rect x="45" y="641" width="1" height="14" fill="#c0c0c0"/><rect x="53" y="638" width="1" height="17" fill="#c0c0c0"/><rect x="61" y="632" width="1" height="23" fill="#c0c0c0"/><rect x="69" y="626" width="1" height="29" fill="#c0c0c0"/><rect x="77" y="624" width="1" height="31" fill="#c0c0c0"/><rect x="85" y="625" width="1" height="30" fill="#c0c0c0"/><rect x="93" y="626" width="1" height="29" fill="#c0c0c0"/><rect x="101" y="626" width="1" height="29" fill="#c0c0c0"/><rect x="109" y="626" width="1" height="29" fill="#c0c0c0"/><rect x="117" y="624" width="1" height="31" fill="#c0c0c0"/><rect x="125" y="618" width="1" height="37" fill="#c0c0c0"/><rect x="133" y="607" width="1" height="48" fill="#c0c0c0"/><rect x="141" y="599" width="1" height="56" fill="#c0c0c0"/><rect x="149" y="593" width="1" height="62" fill="#c0c0c0"/><rect x="157" y="591" width="1" height="64" fill="#c0c0c0"/><rect x="165" y="589" width="1" height="66" fill="#c0c0c0"/><rect x="173" y="587" width="1" height="68" fill="#c0c0c0"/><rect x="181" y="589" width="1" height="66" fill="#c0c0c0"/><rect x="189" y="591" width="1" height="64" fill="#c0c0c0"/><rect x="197" y="592" width="1" height="63" fill="#c0c0c0"/><rect x="205" y="591" width="1" height="64" fill="#c0c0c0"/><rect x="213" y="589" width="1" height="66" fill="#c0c0c0"/><rect x="221" y="586" width="1" height="69" fill="#c0c0c0"/><rect x="229" y="586" width="1" height="69" fill="#c0c0c0"/><rect x="237" y="586" width="1" height="69" fill="#c0c0c0"/><rect x="245" y="591" width="1" height="64" fill="#c0c0c0"/><rect x="253" y="592" width="1" height="63" fill="#c0c0c0"/><rect x="261" y="596" width="1" height="59" fill="#c0c0c0"/><rect x="269" y="597" width="1" height="58" fill="#c0c0c0"/><rect x="277" y="604" width="1" height="51" fill="#c0c0c0"/><rect x="285" y="609" width="1" height="46" fill="#c0c0c0"/><rect x="293" y="615" width="1" height="40" fill="#c0c0c0"/><rect x="301" y="613" width="1" height="42" fill="#c0c0c0"/><rect x="309" y="611" width="1" height="44" fill="#c0c0c0"/><rect x="317" y="606" width="1" height="49" fill="#c0c0c0"/><rect x="325" y="604" width="1" height="51" fill="#c0c0c0"/><rect x="333" y="601" width="1" height="54" fill="#c0c0c0"/><rect x="341" y="595" width="1" height="60" fill="#c0c0c0"/><rect x="349" y="591" width="1" height="64" fill="#c0c0c0"/><rect x="357" y="589" width="1" height="66" fill="#c0c0c0"/><rect x="365" y="593" width="1" height="62" fill="#c0c0c0"/><rect x="373" y="595" width="1" height="60" fill="#c0c0c0"/><rect x="381" y="599" width="1" height="56" fill="#c0c0c0"/><rect x="389" y="607" width="1" height="48" fill="#c0c0c0"/><rect x="397" y="627" width="1" height="28" fill="#c0c0c0"/><rect x="405" y="639" width="1" height="16" fill="#c0c0c0"/><rect x="413" y="654" width="1" height="4" fill="#c0c0c0"/><rect x="421" y="654" width="1" height="23" fill="#c0c0c0"/><rect x="429" y="654" width="1" height="34" fill="#c0c0c0"/><rect x="437" y="654" width="1" height="43" fill="#c0c0c0"/><rect x="445" y="654" width="1" height="51" fill="#c0c0c0"/><rect x="453" y="654" width="1" height="55" fill="#c0c0c0"/><rect x="461" y="654" width="1" height="58" fill="#c0c0c0"/><rect x="469" y="654" width="1" height="64" fill="#c0c0c0"/><rect x="477" y="654" width="1" height="68" fill="#c0c0c0"/><rect x="485" y="654" width="1" height="75" fill="#c0c0c0"/><rect x="493" y="654" width="1" height="81" fill="#c0c0c0"/><rect x="501" y="654" width="1" height="85" fill="#c0c0c0"/><rect x="509" y="654" width="1" height="83" fill="#c0c0c0"/><rect x="517" y="654" width="1" height="83" fill="#c0c0c0"/><rect x="525" y="654" width="1" height="79" fill="#c0c0c0"/><rect x="533" y="654" width="1" height="70" fill="#c0c0c0"/><rect x="541" y="654" width="1" height="61" fill="#c0c0c0"/><rect x="549" y="654" width="1" height="53" fill="#c0c0c0"/><rect x="557" y="654" width="1" height="45" fill="#c0c0c0"/><rect x="565" y="654" width="1" height="39" fill="#c0c0c0"/><rect x="573" y="654" width="1" height="33" fill="#c0c0c0"/><rect x="581" y="654" width="1" height="23" fill="#c0c0c0"/><rect x="589" y="654" width="1" height="21" fill="#c0c0c0"/><rect x="597" y="654" width="1" height="15" fill="#c0c0c0"/><rect x="605" y="654" width="1" height="9" fill="#c0c0c0"/><rect x="621" y="650" width="1" height="5" fill="#c0c0c0"/><rect x="629" y="646" width="1" height="9" fill="#c0c0c0"/><rect x="637" y="649" width="1" height="6" fill="#c0c0c0"/><rect x="645" y="649" width="1" height="6" fill="#c0c0c0"/><rect x="669" y="654" width="1" height="2" fill="#c0c0c0"/><rect x="677" y="654" width="1" height="2" fill="#c0c0c0"/><rect x="693" y="653" width="1" height="2" fill="#c0c0c0"/><rect x="701" y="650" width="1" height="5" fill="#c0c0c0"/><rect x="709" y="652" width="1" height="3" fill="#c0c0c0"/><rect x="741" y="654" width="1" height="8" fill="#c0c0c0"/><rect x="749" y="654" width="1" height="13" fill="#c0c0c0"/><rect x="757" y="654" width="1" height="16" fill="#c0c0c0"/><rect x="765" y="654" width="1" height="20" fill="#c0c0c0"/><rect x="773" y="654" width="1" height="22" fill="#c0c0c0"/><rect x="781" y="654" width="1" height="14" fill="#c0c0c0"/><rect x="789" y="654" width="1" height="16" fill="#c0c0c0"/><rect x="797" y="654" width="1" height="13" fill="#c0c0c0"/><rect x="805" y="654" width="1" height="13" fill="#c0c0c0"/><rect x="813" y="654" width="1" height="13" fill="#c0c0c0"/><rect x="829" y="638" width="1" height="17" fill="#c0c0c0"/><rect x="837" y="626" width="1" height="29" fill="#c0c0c0"/><rect x="845" y="625" width="1" height="30" fill="#c0c0c0"/><rect x="853" y="625" width="1" height="30" fill="#c0c0c0"/><rect x="861" y="622" width="1" height="33" fill="#c0c0c0"/><rect x="869" y="622" width="1" height="33" fill="#c0c0c0"/><rect x="877" y="622" width="1" height="33" fill="#c0c0c0"/><rect x="885" y="625" width="1" height="30" fill="#c0c0c0"/><rect x="893" y="628" width="1" height="27" fill="#c0c0c0"/><rect x="901" y="629" width="1" height="26" fill="#c0c0c0"/><rect x="909" y="629" width="1" height="26" fill="#c0c0c0"/><rect x="917" y="625" width="1" height="30" fill="#c0c0c0"/><rect x="925" y="618" width="1" height="37" fill="#c0c0c0"/><rect x="933" y="613" width="1" height="42" fill="#c0c0c0"/><rect x="941" y="613" width="1" height="42" fill="#c0c0c0"/><rect x="949" y="617" width="1" height="38" fill="#c0c0c0"/><rect x="957" y="618" width="1" height="37" fill="#c0c0c0"/><rect x="965" y="619" width="1" height="36" fill="#c0c0c0"/><rect x="973" y="615" width="1" height="40" fill="#c0c0c0"/><rect x="981" y="614" width="1" height="41" fill="#c0c0c0"/><rect x="989" y="614" width="1" height="41" fill="#c0c0c0"/><rect x="997" y="613" width="1" height="42" fill="#c0c0c0"/><rect x="1005" y="613" width="1" height="42" fill="#c0c0c0"/><rect x="1013" y="618" width="1" height="37" fill="#c0c0c0"/><rect x="1021" y="621" width="1" height="34" fill="#c0c0c0"/><rect x="1029" y="623" width="1" height="32" fill="#c0c0c0"/><rect x="1037" y="629" width="1" height="26" fill="#c0c0c0"/><rect x="1045" y="639" width="1" height="16" fill="#c0c0c0"/><rect x="1053" y="642" width="1" height="13" fill="#c0c0c0"/><rect x="1061" y="645" width="1" height="10" fill="#c0c0c0"/><rect x="1069" y="643" width="1" height="12" fill="#c0c0c0"/><rect x="1077" y="639" width="1" height="16" fill="#c0c0c0"/><rect x="1085" y="636" width="1" height="19" fill="#c0c0c0"/><rect x="1093" y="635" width="1" height="20" fill="#c0c0c0"/><rect x="1101" y="640" width="1" height="15" fill="#c0c0c0"/><rect x="1109" y="642" width="1" height="13" fill="#c0c0c0"/><rect x="1117" y="645" width="1" height="10" fill="#c0c0c0"/><rect x="1125" y="640" width="1" height="15" fill="#c0c0c0"/><rect x="1133" y="636" width="1" height="19" fill="#c0c0c0"/><rect x="1141" y="632" width="1" height="23" fill="#c0c0c0"/><rect x="1149" y="633" width="1" height="22" fill="#c0c0c0"/><rect x="1157" y="634" width="1" height="21" fill="#c0c0c0"/><rect x="1165" y="630" width="1" height="25" fill="#c0c0c0"/><rect x="1173" y="626" width="1" height="29" fill="#c0c0c0"/><rect x="1181" y="621" width="1" height="34" fill="#c0c0c0"/><rect x="1189" y="625" width="1" height="30" fill="#c0c0c0"/><rect x="1197" y="629" width="1" height="26" fill="#c0c0c0"/><rect x="1205" y="628" width="1" height="27" fill="#c0c0c0"/><rect x="1213" y="627" width="1" height="28" fill="#c0c0c0"/><rect x="1221" y="626" width="1" height="29" fill="#c0c0c0"/><rect x="1229" y="626" width="1" height="29" fill="#c0c0c0"/><rect x="1237" y="626" width="1" height="29" fill="#c0c0c0"/><rect x="1245" y="621" width="1" height="34" fill="#c0c0c0"/><rect x="1253" y="619" width="1" height="36" fill="#c0c0c0"/><rect x="1261" y="615" width="1" height="40" fill="#c0c0c0"/><rect x="1269" y="618" width="1" height="37" fill="#c0c0c0"/><rect x="1277" y="622" width="1" height="33" fill="#c0c0c0"/><rect x="1285" y="624" width="1" height="31" fill="#c0c0c0"/><rect x="1293" y="622" width="1" height="33" fill="#c0c0c0"/><rect x="1301" y="623" width="1" height="32" fill="#c0c0c0"/><rect x="1309" y="621" width="1" height="34" fill="#c0c0c0"/><rect x="1317" y="620" width="1" height="35" fill="#c0c0c0"/><rect x="1325" y="620" width="1" height="35" fill="#c0c0c0"/><rect x="1333" y="620" width="1" height="35" fill="#c0c0c0"/><rect x="1341" y="618" width="1" height="37" fill="#c0c0c0"/><rect x="1349" y="618" width="1" height="37" fill="#c0c0c0"/><rect x="1357" y="614" width="1" height="41" fill="#c0c0c0"/><rect x="1365" y="609" width="1" height="46" fill="#c0c0c0"/><rect x="1373" y="607" width="1" height="48" fill="#c0c0c0"/><rect x="1381" y="605" width="1" height="50" fill="#c0c0c0"/><rect x="1389" y="605" width="1" height="50" fill="#c0c0c0"/><rect x="1397" y="605" width="1" height="50" fill="#c0c0c0"/><rect x="1405" y="601" width="1" height="54" fill="#c0c0c0"/><rect x="1413" y="597" width="1" height="58" fill="#c0c0c0"/><rect x="1421" y="594" width="1" height="61" fill="#c0c0c0"/><rect x="1429" y="593" width="1" height="62" fill="#c0c0c0"/><rect x="1437" y="594" width="1" height="61" fill="#c0c0c0"/><polyline fill="none" stroke="#ff0000" stroke-width="1" stroke-dasharray="3 3" points="-3.5,650.8 5.5,648.9 13.5,647.0 21.5,643.2 29.5,639.3 37.5,639.0 45.5,638.8 53.5,637.9 61.5,636.9 69.5,637.0 77.5,635.5 85.5,634.2 93.5,632.9 101.5,631.5 109.5,629.9 117.5,628.0 125.5,625.8 133.5,623.0 141.5,619.9 149.5,616.5 157.5,612.7 165.5,608.6 173.5,604.3 181.5,600.2 189.5,596.5 197.5,593.6 205.5,591.9 213.5,590.8 221.5,590.0 229.5,589.5 237.5,589.1 245.5,589.5 253.5,589.9 261.5,590.5 269.5,591.0 277.5,592.4 285.5,594.6 293.5,597.8 301.5,600.8 309.5,603.6 317.5,605.3 325.5,606.6 333.5,607.2 341.5,606.9 349.5,605.5 357.5,603.3 365.5,600.8 373.5,598.9 381.5,597.5 389.5,597.6 397.5,600.2 405.5,604.4 413.5,611.3 421.5,620.7 429.5,631.6 437.5,643.1 445.5,655.3 453.5,667.4 461.5,678.9 469.5,688.9 477.5,698.0 485.5,705.8 493.5,712.3 501.5,717.9 509.5,722.3 517.5,725.8 525.5,728.4 533.5,729.7 541.5,729.5 549.5,727.8 557.5,724.6 565.5,719.9 573.5,714.1 581.5,707.4 589.5,700.4 597.5,693.4 605.5,686.6 613.5,679.9 621.5,673.7 629.5,667.9 637.5,663.2 645.5,659.1 653.5,656.8 661.5,654.6 669.5,653.3 677.5,652.6 685.5,652.6 693.5,652.9 701.5,653.3 709.5,653.7 717.5,654.3 725.5,654.3 733.5,654.3 741.5,654.9 749.5,656.1 757.5,657.7 765.5,659.8 773.5,662.6 781.5,664.2 789.5,665.8 797.5,667.1 805.5,668.4 813.5,669.0 821.5,667.7 829.5,664.2 837.5,659.1 845.5,653.6 853.5,648.9 861.5,643.8 869.5,638.8 877.5,633.9 885.5,629.4 893.5,626.5 901.5,625.5 909.5,625.8 917.5,625.7 925.5,624.9 933.5,623.9 941.5,622.9 949.5,622.3 957.5,621.5 965.5,620.6 973.5,619.0 981.5,617.4 989.5,616.2 997.5,615.6 1005.5,615.7 1013.5,616.2 1021.5,616.7 1029.5,617.2 1037.5,618.3 1045.5,621.0 1053.5,624.1 1061.5,627.5 1069.5,630.9 1077.5,633.7 1085.5,635.7 1093.5,637.3 1101.5,639.1 1109.5,640.6 1117.5,641.3 1125.5,641.1 1133.5,640.1 1141.5,638.9 1149.5,638.2 1157.5,638.0 1165.5,637.5 1173.5,635.9 1181.5,633.6 1189.5,631.4 1197.5,630.1 1205.5,629.3 1213.5,628.7 1221.5,627.9 1229.5,626.9 1237.5,626.5 1245.5,625.9 1253.5,625.7 1261.5,624.6 1269.5,623.4 1277.5,622.6 1285.5,622.3 1293.5,621.9 1301.5,621.6 1309.5,621.1 1317.5,620.9 1325.5,621.0 1333.5,621.6 1341.5,621.6 1349.5,621.2 1357.5,620.1 1365.5,618.7 1373.5,616.9 1381.5,615.1 1389.5,613.5 1397.5,611.8 1405.5,609.7 1413.5,607.4 1421.5,604.7 1429.5,602.4 1437.5,600.7"/></g><g clip-path="url(#crsi)" shape-rendering="crispEdges"><line x1="0" y1="784.5" x2="1687" y2="784.5" stroke="#b4b4b4" stroke-width="1" stroke-dasharray="3 3"/><line x1="0" y1="835.5" x2="1687" y2="835.5" stroke="#b4b4b4" stroke-width="1" stroke-dasharray="3 3"/><line x1="0" y1="896.5" x2="1687" y2="896.5" stroke="#b4b4b4" stroke-width="1" stroke-dasharray="3 3"/><polyline fill="none" stroke="#1e90ff" stroke-width="1" points="-3.5,823.5 5.5,829.9 13.5,827.9 21.5,830.7 29.5,828.8 37.5,834.5 45.5,830.7 53.5,816.1 61.5,813.2 69.5,809.0 77.5,816.1 85.5,824.2 93.5,824.0 101.5,823.1 109.5,820.8 117.5,814.2 125.5,803.7 133.5,793.2 141.5,791.9 149.5,791.9 157.5,802.7 165.5,798.9 173.5,798.0 181.5,807.5 189.5,810.9 197.5,805.2 205.5,802.2 213.5,798.0 221.5,793.8 229.5,801.8 237.5,799.9 245.5,815.5 253.5,810.0 261.5,818.0 269.5,810.9 277.5,829.9 285.5,828.8 293.5,829.9 301.5,814.2 309.5,814.2 317.5,805.6 325.5,807.5 333.5,805.6 341.5,799.5 349.5,798.0 357.5,799.5 365.5,819.3 373.5,815.1 381.5,820.4 389.5,834.1 397.5,859.3 405.5,850.9 413.5,865.5 421.5,866.9 429.5,863.6 437.5,864.6 445.5,864.6 453.5,859.8 461.5,862.3 469.5,868.0 477.5,866.9 485.5,873.7 493.5,875.6 501.5,875.6 509.5,865.0 517.5,865.5 525.5,859.3 533.5,845.2 541.5,841.7 549.5,838.9 557.5,840.8 565.5,836.4 573.5,834.5 581.5,823.1 589.5,839.5 597.5,830.3 605.5,826.5 613.5,821.8 621.5,822.7 629.5,822.7 637.5,839.5 645.5,834.8 653.5,844.6 661.5,840.8 669.5,840.8 677.5,836.6 685.5,835.7 693.5,824.6 701.5,828.4 709.5,838.9 717.5,836.6 725.5,839.8 733.5,842.7 741.5,852.2 749.5,856.0 757.5,847.8 765.5,853.5 773.5,850.9 781.5,824.6 789.5,845.5 797.5,837.9 805.5,840.8 813.5,837.6 821.5,815.5 829.5,809.0 837.5,810.3 845.5,826.5 853.5,828.0 861.5,823.1 869.5,824.6 877.5,826.1 885.5,830.3 893.5,832.6 901.5,829.4 909.5,826.5 917.5,816.1 925.5,812.8 933.5,811.7 941.5,819.9 949.5,830.3 957.5,826.5 965.5,822.7 973.5,815.1 981.5,819.9 989.5,819.9 997.5,816.6 1005.5,818.5 1013.5,832.2 1021.5,828.8 1029.5,826.9 1037.5,837.0 1045.5,849.7 1053.5,838.9 1061.5,836.4 1069.5,826.9 1077.5,823.1 1085.5,820.8 1093.5,826.9 1101.5,838.3 1109.5,835.1 1117.5,837.9 1125.5,824.6 1133.5,820.4 1141.5,818.9 1149.5,829.9 1157.5,828.8 1165.5,820.4 1173.5,816.1 1181.5,814.2 1189.5,831.8 1197.5,831.8 1205.5,826.5 1213.5,821.8 1221.5,820.8 1229.5,824.6 1237.5,822.7 1245.5,813.2 1253.5,814.2 1261.5,809.8 1269.5,828.0 1277.5,828.0 1285.5,829.9 1293.5,818.7 1301.5,822.8 1309.5,817.1 1317.5,816.8 1325.5,818.0 1333.5,820.0 1341.5,814.1 1349.5,813.8 1357.5,804.3 1365.5,800.9 1373.5,802.9 1381.5,802.9 1389.5,802.9 1397.5,806.8 1405.5,795.0 1413.5,791.9 1421.5,790.9 1429.5,796.5 1437.5,800.9"/></g><g shape-rendering="crispEdges" fill="#000"><rect x="0" y="21" width="1688" height="1"/><rect x="1687" y="21" width="1" height="902"/><rect x="0" y="574" width="1688" height="1"/><rect x="0" y="576" width="1688" height="1"/><rect x="0" y="746" width="1688" height="1"/><rect x="0" y="748" width="1688" height="1"/><rect x="0" y="922" width="1688" height="1"/><rect x="1688" y="43" width="2" height="1"/><rect x="1688" y="76" width="2" height="1"/><rect x="1688" y="109" width="2" height="1"/><rect x="1688" y="142" width="2" height="1"/><rect x="1688" y="175" width="2" height="1"/><rect x="1688" y="208" width="2" height="1"/><rect x="1688" y="241" width="2" height="1"/><rect x="1688" y="274" width="2" height="1"/><rect x="1688" y="307" width="2" height="1"/><rect x="1688" y="340" width="2" height="1"/><rect x="1688" y="373" width="2" height="1"/><rect x="1688" y="406" width="2" height="1"/><rect x="1688" y="439" width="2" height="1"/><rect x="1688" y="472" width="2" height="1"/><rect x="1688" y="505" width="2" height="1"/><rect x="1688" y="538" width="2" height="1"/><rect x="1688" y="571" width="2" height="1"/><rect x="1688" y="578" width="2" height="1"/><rect x="1688" y="654" width="2" height="1"/><rect x="1688" y="745" width="2" height="1"/><rect x="1688" y="750" width="2" height="1"/><rect x="1688" y="784" width="2" height="1"/><rect x="1688" y="835" width="2" height="1"/><rect x="1688" y="896" width="2" height="1"/><rect x="1688" y="921" width="2" height="1"/><rect x="1687" y="70" width="1" height="1" fill="#fff"/><rect x="61" y="923" width="1" height="3"/><rect x="125" y="923" width="1" height="3"/><rect x="189" y="923" width="1" height="3"/><rect x="253" y="923" width="1" height="3"/><rect x="317" y="923" width="1" height="3"/><rect x="381" y="923" width="1" height="3"/><rect x="445" y="923" width="1" height="3"/><rect x="509" y="923" width="1" height="3"/><rect x="573" y="923" width="1" height="3"/><rect x="637" y="923" width="1" height="3"/><rect x="701" y="923" width="1" height="3"/><rect x="765" y="923" width="1" height="3"/><rect x="829" y="923" width="1" height="3"/><rect x="893" y="923" width="1" height="3"/><rect x="957" y="923" width="1" height="3"/><rect x="1021" y="923" width="1" height="3"/><rect x="1085" y="923" width="1" height="3"/><rect x="1149" y="923" width="1" height="3"/><rect x="1213" y="923" width="1" height="3"/><rect x="1277" y="923" width="1" height="3"/><rect x="1341" y="923" width="1" height="3"/><rect x="1405" y="923" width="1" height="3"/></g><text x="1693" y="47" class="ax">145.040</text><text x="1693" y="80" class="ax">144.280</text><text x="1693" y="113" class="ax">143.500</text><text x="1693" y="146" class="ax">142.740</text><text x="1693" y="179" class="ax">141.980</text><text x="1693" y="212" class="ax">141.200</text><text x="1693" y="245" class="ax">140.440</text><text x="1693" y="278" class="ax">139.680</text><text x="1693" y="311" class="ax">138.920</text><text x="1693" y="344" class="ax">138.160</text><text x="1693" y="377" class="ax">137.380</text><text x="1693" y="410" class="ax">136.620</text><text x="1693" y="443" class="ax">135.860</text><text x="1693" y="476" class="ax">135.100</text><text x="1693" y="509" class="ax">134.320</text><text x="1693" y="542" class="ax">133.560</text><text x="1693" y="575" class="ax">132.800</text><text x="1691" y="587" class="ax">1.2152</text><text x="1691" y="658" class="ax">0.00</text><text x="1691" y="743" class="ax">-1.4437</text><text x="1691" y="759" class="ax">100</text><text x="1691" y="788" class="ax">80</text><text x="1691" y="839" class="ax">50</text><text x="1691" y="900" class="ax">15</text><text x="1691" y="919" class="ax">0</text><rect x="1689" y="64" width="41" height="11" fill="#000000" shape-rendering="crispEdges"/><text x="1693" y="73" class="ax" style="fill:#fff;stroke:#fff">144.403</text><rect x="1689" y="20" width="41" height="11" fill="#ff0000" shape-rendering="crispEdges"/><text x="1693" y="29" class="ax" style="fill:#fff;stroke:#fff">145.424</text><rect x="1689" y="32" width="41" height="11" fill="#ff0000" shape-rendering="crispEdges"/><text x="1693" y="41" class="ax" style="fill:#fff;stroke:#fff">145.146</text><rect x="1689" y="62" width="41" height="11" fill="#32cd32" shape-rendering="crispEdges"/><text x="1693" y="71" class="ax" style="fill:#fff;stroke:#fff">144.455</text><rect x="1689" y="80" width="41" height="11" fill="#0000ff" shape-rendering="crispEdges"/><text x="1693" y="89" class="ax" style="fill:#fff;stroke:#fff">144.040</text><rect x="1689" y="94" width="41" height="11" fill="#0000ff" shape-rendering="crispEdges"/><text x="1693" y="103" class="ax" style="fill:#fff;stroke:#fff">143.715</text><text x="-4" y="934.5" class="ax" style="font-size:9.5px">12 Jul 2020</text><text x="60" y="934.5" class="ax" style="font-size:9.5px">21 Jul 2020</text><text x="124" y="934.5" class="ax" style="font-size:9.5px">30 Jul 2020</text><text x="188" y="934.5" class="ax" style="font-size:9.5px">9 Aug 2020</text><text x="252" y="934.5" class="ax" style="font-size:9.5px">18 Aug 2020</text><text x="316" y="934.5" class="ax" style="font-size:9.5px">27 Aug 2020</text><text x="380" y="934.5" class="ax" style="font-size:9.5px">6 Sep 2020</text><text x="444" y="934.5" class="ax" style="font-size:9.5px">15 Sep 2020</text><text x="508" y="934.5" class="ax" style="font-size:9.5px">24 Sep 2020</text><text x="572" y="934.5" class="ax" style="font-size:9.5px">4 Oct 2020</text><text x="636" y="934.5" class="ax" style="font-size:9.5px">13 Oct 2020</text><text x="700" y="934.5" class="ax" style="font-size:9.5px">22 Oct 2020</text><text x="764" y="934.5" class="ax" style="font-size:9.5px">1 Nov 2020</text><text x="828" y="934.5" class="ax" style="font-size:9.5px">10 Nov 2020</text><text x="892" y="934.5" class="ax" style="font-size:9.5px">19 Nov 2020</text><text x="956" y="934.5" class="ax" style="font-size:9.5px">29 Nov 2020</text><text x="1020" y="934.5" class="ax" style="font-size:9.5px">8 Dec 2020</text><text x="1084" y="934.5" class="ax" style="font-size:9.5px">17 Dec 2020</text><text x="1148" y="934.5" class="ax" style="font-size:9.5px">28 Dec 2020</text><text x="1212" y="934.5" class="ax" style="font-size:9.5px">7 Jan 2021</text><text x="1276" y="934.5" class="ax" style="font-size:9.5px">17 Jan 2021</text><text x="1340" y="934.5" class="ax" style="font-size:9.5px">26 Jan 2021</text><text x="1404" y="934.5" class="ax" style="font-size:9.5px">4 Feb 2021</text><text x="1" y="589" class="ax" textLength="127" lengthAdjust="spacingAndGlyphs">MACD(12,26,9) 0.9750 0.8750</text><text x="1" y="761" class="ax" textLength="68" lengthAdjust="spacingAndGlyphs">RSI(14) 70.1353</text><text x="12" y="33" class="ax" textLength="210" lengthAdjust="spacingAndGlyphs">GBPJPY-,Daily  144.593 144.655 144.017 144.403</text><path d="M0,31 L4,27 L8,31 Z" fill="#000"/><polyline fill="none" stroke="#ff0000" stroke-width="3" stroke-linejoin="miter" points="1105,352 1425,45 1447,70"/><path d="M1414,50 L1426,43 L1420,56 Z" fill="#ff0000"/><path d="M1446,74 L1458,80 L1452,68 Z" fill="#ff0000"/><rect x="1389" y="64" width="82" height="8" fill="#00ff00" shape-rendering="crispEdges"/><path d="M1445,22 L1454,22 L1449.5,27 Z" fill="#a0a0a0"/><path transform="translate(1471.5,72)" d="M7,0 L3,4 M5,2 L14,2 L6,9 M6,5 L9,7 M10,8 L3,13 M6,11 L16,11 L4,19 M8,14 L11,16" fill="none" stroke="#00ff00" stroke-width="1.25"/><path transform="translate(1493.0,72)" d="M9,0 L10,2 M1,6 L1,3 L18,3 L17,6 M7,5 L3,9 M11,5 L15,8 M4,11 L14,11 M9,11 L9,18 M1,18 L18,18" fill="none" stroke="#00ff00" stroke-width="1.25"/><path transform="translate(1514.5,72)" d="M1,3 L8,3 M5,0 L2,10 L8,9 M5,6 L5,19 M0,14 L8,12 M10,4 L18,4 M14,0 L12,10 M9,8 L18,8 M12,11 L17,11 L13,15 L17,18" fill="none" stroke="#00ff00" stroke-width="1.25"/><path transform="translate(1537.0,72)" d="M0,5 L6,5 M3,0 L3,18 L1,17 M0,13 L6,10 M16,0 L9,2 L9,10 L7,19 M9,8 L18,8 M14,8 L14,19" fill="none" stroke="#00ff00" stroke-width="1.25"/><path transform="translate(1560.0,72)" d="M7,0 L7,8 M7,4 L15,4 M2,8 L15,8 L15,14 L2,14 Z M2,8 L2,14 M1,18 L3,16 M6,16 L7,18 M10,16 L11,18 M14,16 L16,18" fill="none" stroke="#00ff00" stroke-width="1.25"/></svg>
<div style="position:absolute;left:0;top:41px;width:221px;height:65px;background:#fff"></div>
<div class="tab" style="left:0;top:41px;width:50px;height:24px;border-width:1px 1px 0 1px"></div>
<div class="bot" style="left:0;top:65px;width:107px;height:39px;border-width:0 1px 1px 1px"></div>
<div class="tab" style="left:167px;top:41px;width:50px;height:24px;border-width:1px 1px 0 1px"></div>
<div class="bot" style="left:111px;top:65px;width:106px;height:39px;border-width:0 1px 1px 1px"></div>
<div style="position:absolute;left:1px;top:66px;width:51px;height:1px;background:#3a3ae8"></div>
<div style="position:absolute;left:168px;top:66px;width:50px;height:1px;background:#3a3ae8"></div>
<div style="position:absolute;left:4px;top:64px;width:44px;height:1px;background:#1c1cb0"></div>
<div style="position:absolute;left:4px;top:65px;width:44px;height:1px;background:#7878ff"></div>
<div style="position:absolute;left:171px;top:64px;width:44px;height:1px;background:#1c1cb0"></div>
<div style="position:absolute;left:171px;top:65px;width:44px;height:1px;background:#7878ff"></div>
<div class="pt" style="left:12.5px;top:47px;font-size:12.5px;transform:scaleX(0.84);transform-origin:0 0">SELL</div>
<div class="pt" style="left:180.5px;top:47px;font-size:12.5px;transform:scaleX(0.88);transform-origin:0 0">BUY</div>
<div class="pt" style="left:23px;top:86px;font-size:12.5px;font-weight:bold">144</div>
<div class="pt" style="left:47px;top:68px;font-size:33px;letter-spacing:-0.5px">40</div>
<div class="pt" style="left:88px;top:70px;font-size:12px;font-weight:bold">3</div>
<div class="pt" style="left:133px;top:86px;font-size:12.5px;font-weight:bold">144</div>
<div class="pt" style="left:159px;top:68px;font-size:33px;letter-spacing:-0.5px">60</div>
<div class="pt" style="left:198px;top:70px;font-size:12px;font-weight:bold">1</div>
<div style="position:absolute;left:54px;top:41px;width:109px;height:20px;border:1px solid #a8a8a8;background:#fff"></div>
<div class="btn" style="left:55px;top:42px;width:19px;height:19px;border-right:1px solid #a8a8a8"></div>
<div class="btn" style="left:143px;top:42px;width:20px;height:19px;border-left:1px solid #a8a8a8"></div>
<div style="position:absolute;left:61px;top:50px;width:0;height:0;border-left:4px solid transparent;border-right:4px solid transparent;border-top:4px solid #4a5aa0"></div>
<div style="position:absolute;left:150px;top:50px;width:0;height:0;border-left:4px solid transparent;border-right:4px solid transparent;border-bottom:4px solid #4a5aa0"></div>
<div class="pt" style="left:116px;top:45px;font-size:12px;color:#000">1.00</div>
<svg width="1734" height="18" style="position:absolute;left:0;top:0"><rect x="48" y="0" width="1" height="15" fill="#a0a0a0"/><rect x="322" y="0" width="1" height="15" fill="#a0a0a0"/><rect x="379" y="0" width="1" height="15" fill="#a0a0a0"/><rect x="469" y="0" width="1" height="15" fill="#a0a0a0"/><rect x="474" y="0" width="1" height="15" fill="#a0a0a0"/><rect x="502" y="0" width="1" height="15" fill="#a0a0a0"/><rect x="531" y="0" width="1" height="15" fill="#a0a0a0"/><rect x="652" y="0" width="1" height="15" fill="#a0a0a0"/><rect x="662" y="0" width="1" height="15" fill="#a0a0a0"/><rect x="719" y="0" width="1" height="15" fill="#a0a0a0"/><rect x="1219" y="0" width="1" height="15" fill="#a0a0a0"/><rect x="284" y="0" width="1" height="17" fill="#a0a0a0"/><rect x="285" y="0" width="1" height="17" fill="#fff"/><rect x="958" y="0" width="1" height="17" fill="#a0a0a0"/><rect x="959" y="0" width="1" height="17" fill="#fff"/><rect x="1136" y="0" width="1" height="17" fill="#a0a0a0"/><rect x="1137" y="0" width="1" height="17" fill="#fff"/><rect x="288" y="1" width="3" height="1" fill="#b8b8b8"/><rect x="288" y="3" width="3" height="1" fill="#b8b8b8"/><rect x="288" y="5" width="3" height="1" fill="#b8b8b8"/><rect x="288" y="7" width="3" height="1" fill="#b8b8b8"/><rect x="288" y="9" width="3" height="1" fill="#b8b8b8"/><rect x="288" y="11" width="3" height="1" fill="#b8b8b8"/><rect x="288" y="13" width="3" height="1" fill="#b8b8b8"/><rect x="657" y="1" width="3" height="1" fill="#b8b8b8"/><rect x="657" y="3" width="3" height="1" fill="#b8b8b8"/><rect x="657" y="5" width="3" height="1" fill="#b8b8b8"/><rect x="657" y="7" width="3" height="1" fill="#b8b8b8"/><rect x="657" y="9" width="3" height="1" fill="#b8b8b8"/><rect x="657" y="11" width="3" height="1" fill="#b8b8b8"/><rect x="657" y="13" width="3" height="1" fill="#b8b8b8"/><rect x="963" y="1" width="3" height="1" fill="#b8b8b8"/><rect x="963" y="3" width="3" height="1" fill="#b8b8b8"/><rect x="963" y="5" width="3" height="1" fill="#b8b8b8"/><rect x="963" y="7" width="3" height="1" fill="#b8b8b8"/><rect x="963" y="9" width="3" height="1" fill="#b8b8b8"/><rect x="963" y="11" width="3" height="1" fill="#b8b8b8"/><rect x="963" y="13" width="3" height="1" fill="#b8b8b8"/><rect x="323" y="0" width="24" height="15" fill="#f7f7f7"/><rect x="475" y="0" width="24" height="15" fill="#f7f7f7"/><rect x="503" y="0" width="24" height="15" fill="#f7f7f7"/><rect x="663" y="0" width="24" height="15" fill="#f7f7f7"/><rect x="1136" y="0" width="25" height="15" fill="#f7f7f7"/><rect x="-1" y="-2" width="11" height="13" fill="#fff" stroke="#3a7fc8" stroke-width="1"/><rect x="1" y="2" width="8" height="1" fill="#aac8f0"/><rect x="1" y="4" width="8" height="1" fill="#aac8f0"/><rect x="1" y="6" width="8" height="1" fill="#aac8f0"/><rect x="0" y="1" width="1" height="1" fill="#e00"/><rect x="0" y="6" width="1" height="1" fill="#e00"/><rect x="23.5" y="-2" width="12" height="13" fill="#fff" stroke="#b0a890"/><circle cx="31.5" cy="6" r="5" fill="#dcecf8" stroke="#5a8fd0" stroke-width="1"/><line x1="35.5" y1="10" x2="40" y2="14" stroke="#c8a020" stroke-width="2"/><rect x="58.5" y="-2" width="11" height="12.5" fill="#fff" stroke="#707070"/><rect x="60" y="3" width="6" height="1" fill="#777"/><rect x="60" y="5" width="6" height="1" fill="#777"/><path d="M66,3h4v4h4v4h-4v4h-4v-4h-4v-4h4z" fill="#1ec81e" stroke="#0a900a" stroke-width="0.8"/><path d="M125,6 L133,0 L141,6 L133,13 Z" fill="#e8b830" stroke="#a07010" stroke-width="1"/><rect x="155" y="-2" width="8" height="10" fill="#4a9ae0"/><rect x="157" y="1" width="4" height="1" fill="#fff"/><path d="M153,12 Q153,8 157,9 Q160,5 164,8 Q169,8 169,12 Z" fill="#f0f4fa" stroke="#7f9fc0"/><circle cx="189" cy="5" r="7" fill="none" stroke="#8ab4e0" stroke-width="1"/><circle cx="189" cy="5" r="4.5" fill="none" stroke="#4a80d0" stroke-width="1"/><circle cx="189" cy="5" r="1.5" fill="#2050c0"/><rect x="189" y="5" width="1.5" height="8" fill="#20b020"/><path d="M208,4 L224,4 L219,13 L213,13 Z" fill="#f0c830" stroke="#b89010"/><ellipse cx="216" cy="2" rx="7" ry="3.5" fill="#5ab0e0"/><circle cx="221" cy="11" r="4" fill="#d02020"/><rect x="219.5" y="9.5" width="3" height="3" fill="#fff"/><rect x="302" y="0" width="1" height="13" fill="#404040"/><rect x="300" y="10" width="14" height="1" fill="#404040"/><path d="M313,8.5 L316,10.5 L313,12.5 Z" fill="#404040"/><path d="M307,8 h2 v-7 h2" fill="none" stroke="#109010" stroke-width="1"/><rect x="330" y="0" width="1" height="13" fill="#404040"/><rect x="328" y="10" width="14" height="1" fill="#404040"/><path d="M341,8.5 L344,10.5 L341,12.5 Z" fill="#404040"/><rect x="334" y="-1" width="5" height="8" fill="#30d030" stroke="#108010" stroke-width="0.8"/><rect x="336" y="7" width="1" height="3" fill="#108010"/><rect x="358" y="0" width="1" height="13" fill="#404040"/><rect x="356" y="10" width="14" height="1" fill="#404040"/><path d="M369,8.5 L372,10.5 L369,12.5 Z" fill="#404040"/><path d="M358,8 Q364,-2 369,6" fill="none" stroke="#20a020" stroke-width="1"/><line x1="398.5" y1="7" x2="403.5" y2="12" stroke="#c8a020" stroke-width="2"/><circle cx="393.5" cy="3" r="5.5" fill="#dcecf8" stroke="#3a7fd0" stroke-width="1.2"/><rect x="390.5" y="2" width="6" height="2" fill="#3a7fd0"/><rect x="392.5" y="0" width="2" height="6" fill="#3a7fd0"/><line x1="426.5" y1="7" x2="431.5" y2="12" stroke="#c8a020" stroke-width="2"/><circle cx="421.5" cy="3" r="5.5" fill="#dcecf8" stroke="#3a7fd0" stroke-width="1.2"/><rect x="418.5" y="2" width="6" height="2" fill="#3a7fd0"/><rect x="444" y="-1" width="7" height="5" fill="#30a830"/><rect x="452" y="-1" width="7" height="5" fill="#3070d0"/><rect x="444" y="5" width="7" height="7" fill="#3070d0"/><rect x="452" y="5" width="7" height="7" fill="#30a830"/><rect x="480" y="0" width="1" height="13" fill="#404040"/><rect x="478" y="10" width="14" height="1" fill="#404040"/><path d="M491,8.5 L494,10.5 L491,12.5 Z" fill="#404040"/><path d="M486,2 L491,5 L486,8 Z" fill="#20b020"/><rect x="508" y="0" width="1" height="13" fill="#404040"/><rect x="506" y="10" width="14" height="1" fill="#404040"/><path d="M519,8.5 L522,10.5 L519,12.5 Z" fill="#404040"/><rect x="515" y="0" width="1" height="10" fill="#2060c0"/><path d="M520,3 L516,5 L520,7 Z" fill="#e05010"/><rect x="518" y="4.5" width="3" height="1" fill="#e05010"/><rect x="543" y="-2" width="10" height="11" fill="#fff" stroke="#707070"/><path d="M548,6h3v-3h3v3h3v3h-3v4h-3v-4h-3z" fill="#20c820" stroke="#0a900a" stroke-width="0.8"/><circle cx="587" cy="4.5" r="7.5" fill="#2a7ae0"/><circle cx="587" cy="4.5" r="5.5" fill="#f4f8fc"/><path d="M587,1 v4 h3" stroke="#333" fill="none"/><rect x="618" y="-1" width="16" height="13" fill="#fff" stroke="#3a7fc8"/><path d="M620,3 l4,-1 l4,1 l4,-2" stroke="#c03020" fill="none"/><path d="M620,9 l4,-2 l4,2 l4,-2" stroke="#20a020" fill="none"/><rect x="619" y="5" width="14" height="1" fill="#3a7fc8"/><path d="M562,4 L568,4 L565,7 Z" fill="#000"/><path d="M601,4 L607,4 L604,7 Z" fill="#000"/><path d="M640,4 L646,4 L643,7 Z" fill="#000"/><path d="M946,4 L952,4 L949,7 Z" fill="#000"/><path d="M670,0 L670,11 L673,8 L676,13 L678,12 L675,7 L679,7 Z" fill="#202020"/><rect x="695" y="5" width="15" height="1" fill="#404040"/><rect x="702" y="-1" width="1" height="13" fill="#404040"/><rect x="736" y="0" width="1" height="11" fill="#404040"/><rect x="759" y="5" width="12" height="1" fill="#404040"/><line x1="787" y1="12" x2="800" y2="-1" stroke="#404040" stroke-width="1"/><path d="M814,8 L822,0 M817,11 L826,2 M816,4 L824,4 M815,8 L823,8" stroke="#505050" fill="none"/><text x="824" y="14" style="font:bold 6px Liberation Sans" fill="#303030">E</text><rect x="842" y="1" width="13" height="1" fill="#606060" opacity="0.8"/><rect x="842" y="4" width="13" height="1" fill="#606060" opacity="0.8"/><rect x="842" y="7" width="13" height="1" fill="#606060" opacity="0.8"/><text x="851" y="14" style="font:bold 6px Liberation Sans" fill="#303030">F</text><text x="872" y="10" style="font:bold 11px Liberation Sans" fill="#505050">A</text><rect x="899.5" y="0.5" width="11" height="12" fill="none" stroke="#606060" stroke-dasharray="1 1"/><text x="901" y="10" style="font:bold 10px Liberation Sans" fill="#404040">T</text><path d="M927,3 L931,-1 L935,3 Z M934,10 L938,6 L942,10 L938,13 Z" fill="#303030"/><path d="M930,3 L938,9" stroke="#303030"/><text x="973.5" y="9" style="font-family:Liberation Sans;font-size:10px" fill="#303030">M1</text><text x="1001.0" y="9" style="font-family:Liberation Sans;font-size:10px" fill="#303030">M5</text><text x="1027.0" y="9" style="font-family:Liberation Sans;font-size:10px" fill="#303030">M15</text><text x="1055.5" y="9" style="font-family:Liberation Sans;font-size:10px" fill="#303030">M30</text><text x="1086.0" y="9" style="font-family:Liberation Sans;font-size:10px" fill="#303030">H1</text><text x="1113.0" y="9" style="font-family:Liberation Sans;font-size:10px" fill="#303030">H4</text><text x="1142.0" y="9" style="font-family:Liberation Sans;font-size:10px" fill="#303030">D1</text><text x="1169.5" y="9" style="font-family:Liberation Sans;font-size:10px" fill="#303030">W1</text><text x="1196.5" y="9" style="font-family:Liberation Sans;font-size:10px" fill="#303030">MN</text><circle cx="1690" cy="3" r="3.5" fill="none" stroke="#2060d0" stroke-width="1.6"/><line x1="1687" y1="6" x2="1683" y2="11" stroke="#2060d0" stroke-width="2"/><ellipse cx="1712" cy="9" rx="6" ry="4" fill="#e8e8e8" stroke="#b0b0b0"/><circle cx="1720" cy="3" r="6" fill="#d83020"/><text x="1717.5" y="7" style="font:bold 9px Liberation Sans" fill="#fff">1</text><path transform="translate(77,0)" d="M0,2.5 H8 M1,4.5 H7 M4,2.5 V9 M0.5,6.5 L2,8.5 M7,6 L5.5,8.5 M2,0.5 L3,1.5 M9,2.5 H15 M9.5,2.5 V9 M13.5,2.5 V7.5 L15.5,5.5" fill="none" stroke="#101010" stroke-width="1.1"/><path transform="translate(92,0)" d="M0.5,0 L2,1.5 M1,4 V8.5 L2.5,7 M3,0.5 H8 M5.5,0.5 V8.5 H3" fill="none" stroke="#101010" stroke-width="1.1"/><path transform="translate(101,0)" d="M1,0.5 H11 M1,2.5 H11 M1,4.5 H11 M1,-2 V4.5 M11,-2 V4.5 M0,6.5 H12 M6,-2 V9" fill="none" stroke="#101010" stroke-width="1.1"/><path transform="translate(230,0)" d="M0.5,-2 V8.5 M8.5,-2 V8.5 M0.5,1.5 H8.5 M0.5,4.5 H8.5 M0.5,8 H8.5" fill="none" stroke="#101010" stroke-width="1.1"/><path transform="translate(241,0)" d="M0.5,2.5 H5.5 M3,4.5 L1,7.5 H6 M6,0.5 H12 M11,0.5 V8.5 H10 M8.5,0.5 Q8.5,6 6,8.5" fill="none" stroke="#101010" stroke-width="1.1"/><path transform="translate(253,0)" d="M0.5,0.5 H11 M2,4.5 L3.5,2.5 M8,2.5 L9.5,4.5 M3,5 L10,9 M8.5,5 L1,9" fill="none" stroke="#101010" stroke-width="1.1"/><path transform="translate(265,0)" d="M2.5,-2 V2.5 H10 V-2 M2.5,0.5 H10 M0.5,4.5 H10.5 V8.5 H9.5 M3.5,4.5 L0.5,8.5 M6,5 L3.5,8.5 M8.5,5 L6,8.5" fill="none" stroke="#101010" stroke-width="1.1"/></svg>
</body></html>
